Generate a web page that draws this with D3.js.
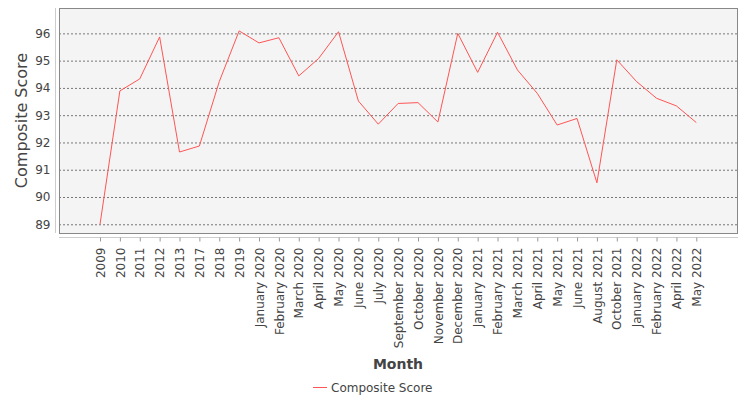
<!DOCTYPE html>
<html><head><meta charset="utf-8">
<script src="https://cdn.jsdelivr.net/npm/d3@7"></script>
<style>body{margin:0;background:#fff;} svg{display:block;font-family:"DejaVu Sans",sans-serif;}</style>
</head><body>
<svg id="c" width="750" height="400"></svg>
<script>
const categories = ["2009","2010","2011","2012","2013","2017","2018","2019",
 "January 2020","February 2020","March 2020","April 2020","May 2020","June 2020","July 2020",
 "September 2020","October 2020","November 2020","December 2020",
 "January 2021","February 2021","March 2021","April 2021","May 2021","June 2021",
 "August 2021","October 2021","January 2022","February 2022","April 2022","May 2022"];
const scores = [89.0,93.89,94.33,95.87,91.65,91.87,94.23,96.09,
 95.65,95.84,94.44,95.08,96.06,93.52,92.67,
 93.43,93.46,92.75,96.0,
 94.57,96.04,94.66,93.80,92.64,92.88,
 90.52,95.03,94.23,93.62,93.34,92.73];
const yTicks = [89,90,91,92,93,94,95,96];
const seriesName = "Composite Score";

const svg = d3.select("#c");
const L=59, R=738, T=8, B=233;
const x = d3.scalePoint().domain(categories).range([100, 696.3]);
const y = d3.scaleLinear().domain([88.68, 96.93]).range([B, T]);

svg.append("rect").attr("x",L).attr("y",T).attr("width",R-L).attr("height",B-T)
  .attr("fill","#f4f4f4");
// gridlines
svg.append("g").selectAll("line").data(yTicks).join("line")
  .attr("x1",L).attr("x2",R).attr("y1",d=>y(d)+0.5).attr("y2",d=>y(d)+0.5)
  .attr("stroke","#777").attr("stroke-width",1).attr("stroke-dasharray","2,2");
svg.append("rect").attr("x",L+0.5).attr("y",T+0.5).attr("width",R-L-1).attr("height",B-T)
  .attr("fill","none").attr("stroke","#888").attr("stroke-width",1);

// y axis
const ya = svg.append("g").attr("transform",`translate(55.5,0)`)
  .call(d3.axisLeft(y).tickValues(yTicks).tickSize(0).tickPadding(5));
ya.select(".domain").attr("stroke","#ccc").attr("d",`M0,${T}V${B}`);
ya.selectAll("text").attr("font-size",12).attr("fill","#444").attr("font-family","DejaVu Sans");

// x axis
const xa = svg.append("g").attr("transform",`translate(0,237.5)`)
  .call(d3.axisBottom(x).tickSize(4).tickPadding(0));
xa.select(".domain").attr("stroke","#ccc").attr("d",`M${L},0H${R}`);
xa.selectAll(".tick line").attr("stroke","#999");
xa.selectAll("text").attr("font-size",12).attr("fill","#444").attr("font-family","DejaVu Sans")
  .attr("transform","rotate(-90)").attr("text-anchor","end")
  .attr("x",-10).attr("y",0).attr("dy","0.35em");

// line
svg.append("path").datum(scores)
  .attr("d", d3.line().x((d,i)=>x(categories[i])).y(d=>y(d)))
  .attr("fill","none").attr("stroke","#ff5555").attr("stroke-width",1);

// titles
svg.append("text").attr("transform",`translate(27,${(T+B)/2}) rotate(-90)`)
  .attr("text-anchor","middle").attr("font-size",16)
  .attr("fill","#444").text("Composite Score");
svg.append("text").attr("x",398).attr("y",369).attr("text-anchor","middle")
  .attr("font-size",14).attr("font-weight","bold").attr("fill","#444").text("Month");

// legend
const lg = svg.append("g");
lg.append("line").attr("x1",313).attr("x2",327).attr("y1",387.5).attr("y2",387.5)
  .attr("stroke","#ff5555").attr("stroke-width",1);
lg.append("text").attr("x",331).attr("y",392).attr("font-size",12).attr("fill","#444").text(seriesName);
</script>
</body></html>
